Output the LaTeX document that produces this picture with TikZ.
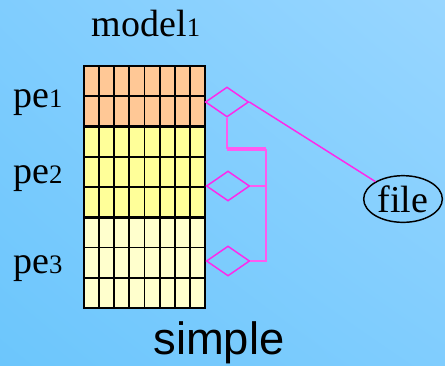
\documentclass[tikz,border=0pt]{standalone}
\usepackage{fontspec}
\setmainfont{Liberation Serif}
\setsansfont{Liberation Sans}
\usepackage{tikz}
\usetikzlibrary{shapes.geometric,shadings}

\definecolor{skylow}{RGB}{108,198,252}
\definecolor{skymid}{RGB}{128,205,254}
\definecolor{skyhigh}{RGB}{152,214,255}
\definecolor{peorange}{RGB}{255,200,150}
\definecolor{peyellow}{RGB}{255,255,153}
\definecolor{pepale}{RGB}{255,255,205}
\definecolor{linkmag}{RGB}{255,40,235}
\definecolor{busmag}{RGB}{255,90,240}

\newcommand{\serifbig}{\fontsize{28.5}{32}\selectfont}
\newcommand{\smalldig}[1]{{\fontsize{20}{22}\selectfont #1}}

\tikzset{
  cellgrid/.style={line width=1.4pt, black},
  gridframe/.style={line width=2pt, black},
  iodiamond/.style={diamond, draw=linkmag, line width=1.1pt, inner sep=0pt,
    minimum width=32.5pt, minimum height=22.5pt},
  link/.style={linkmag, line width=1.1pt},
  bus/.style={busmag, line width=1.6pt},
  lbl/.style={font=\serifbig, inner sep=0pt}
}

\begin{document}
\begin{tikzpicture}[x=0.75pt,y=0.75pt,yscale=-1,xscale=1]
% background
\shade[upper left=skymid, upper right=skyhigh, lower left=skylow, lower right=skymid]
  (0,0) rectangle (445,365);
\useasboundingbox (0,0) rectangle (445,365);

% Rectangles: pe blocks
\fill[peorange] (84,66) rectangle (205,126.5);
\fill[peyellow] (84,126.5) rectangle (205,217.25);
\fill[pepale] (84,217.25) rectangle (205,308);

% Straight Lines: cell grid
\foreach \c in {1,...,7}
  \draw[cellgrid] (84+\c*15.125,66) -- (84+\c*15.125,308);
\foreach \r in {1,3,4,6,7}
  \draw[cellgrid] (84,66+\r*30.25) -- (205,66+\r*30.25);
\draw[gridframe] (84,126.5) -- (205,126.5);
\draw[gridframe] (84,217.25) -- (205,217.25);
\draw[gridframe] (84,66) rectangle (205,308);

% Text Node
\node[lbl, anchor=base] (model) at (146,36) {model\smalldig{1}};
\node[lbl, anchor=base west] (pe1) at (13,107) {pe\smalldig{1}};
\node[lbl, anchor=base west] (pe2) at (13,183) {pe\smalldig{2}};
\node[lbl, anchor=base west] (pe3) at (13,273) {pe\smalldig{3}};
\node[font=\sffamily\fontsize{34}{38}\selectfont, inner sep=0pt, anchor=base] (simple) at (219,354) {simple};

% Diamonds and file
\node[iodiamond] (d1) at (227,102) {};
\node[iodiamond] (d2) at (228,186) {};
\node[iodiamond] (d3) at (228,261) {};
\node[ellipse, draw, line width=1.1pt, inner sep=0pt, minimum width=59pt,
  minimum height=35pt, font=\serifbig] (file) at (403,199) {file};

% Connectors
\coordinate (bustop) at (266,149);
\draw[link] (d1.east) -- (file);
\draw[bus] (d1.south) -- (d1.south |- bustop);
\draw[busmag, line width=2.3pt] (d1.south |- bustop) -- (bustop);
\draw[bus] (bustop) -- (bustop |- d3.east) -- (d3.east);
\draw[bus] (d2.east) -- (bustop |- d2.east);

\end{tikzpicture}
\end{document}
